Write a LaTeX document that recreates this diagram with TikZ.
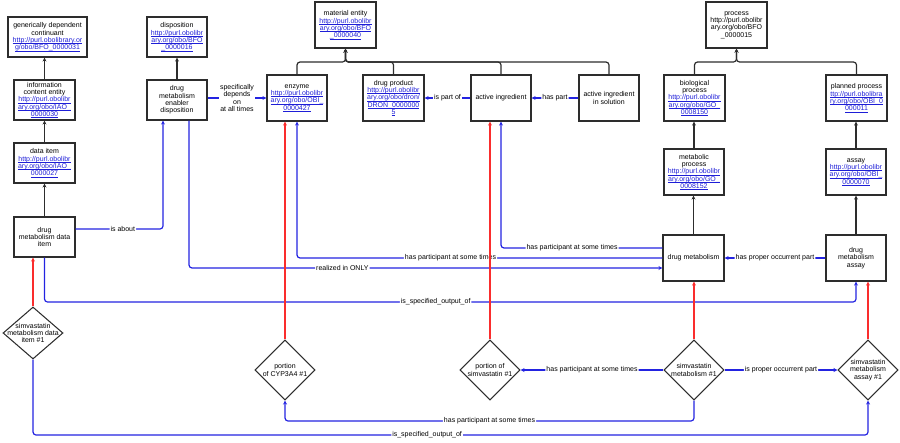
\documentclass[tikz,border=0pt]{standalone}
\usepackage{fontspec}
\setmainfont{Liberation Sans}
\usetikzlibrary{arrows.meta,shapes.geometric}
\definecolor{relblue}{RGB}{35,35,225}
\definecolor{insred}{RGB}{250,45,45}
\definecolor{linkc}{RGB}{30,30,215}
\definecolor{edgec}{RGB}{45,45,45}
\newcommand{\lk}[1]{{\color{linkc}\setbox0=\hbox{#1}\leavevmode\rlap{\rule[-1.2pt]{\wd0}{0.45pt}}\box0}}
\begin{document}
\begin{tikzpicture}[x=1pt,y=-1pt,
  every node/.style={font=\fontsize{7}{7.3}\selectfont},
  box/.style={draw=edgec, line width=1.1pt, align=center, inner sep=1pt, minimum width=60pt, minimum height=40pt},
  bbox/.style={box, minimum height=46pt},
  diam/.style={draw=edgec, line width=1.05pt, diamond, minimum width=60pt, minimum height=60pt, inner sep=0pt},
  isa/.style={draw=edgec, line width=1.2pt, -{Stealth[length=4pt,width=4pt]}, rounded corners=3pt},
  rel/.style={draw=relblue, line width=1.2pt, -{Stealth[length=4pt,width=4pt]}, rounded corners=3pt},
  inst/.style={draw=insred, line width=1.2pt, -{Stealth[length=4pt,width=4pt]}},
  lbl/.style={fill=white, inner sep=1pt, align=center},
]
\useasboundingbox (0,0) rectangle (900,442);

% classes
\node[box, minimum width=79pt] (gdc) at (47.5,37) {generically dependent\\continuant\\\lk{http://purl.obolibrary.or}\\\lk{g/obo/BFO\_0000031}};
\node[box, minimum width=61pt] (ice) at (44.5,100) {information\\content entity\\\lk{http://purl.obolibr}\\\lk{ary.org/obo/IAO\_}\\\lk{0000030}};
\node[box, minimum width=61pt] (dataitem) at (44.5,163) {data item\\\lk{http://purl.obolibr}\\\lk{ary.org/obo/IAO\_}\\\lk{0000027}};
\node[box, minimum width=61pt] (dmdi) at (44.5,237) {drug\\metabolism data\\item};
\node[box] (disp) at (177,37) {disposition\\\lk{http://purl.obolibr}\\\lk{ary.org/obo/BFO}\\\lk{\_0000016}};
\node[box] (dmed) at (177,100) {drug\\metabolism\\enabler\\disposition};
\node[bbox, minimum width=61pt] (material) at (345.5,25) {material entity\\\lk{http://purl.obolibr}\\\lk{ary.org/obo/BFO}\\\lk{\_0000040}};
\node[bbox] (enzyme) at (297,98) {enzyme\\\lk{http://purl.obolibr}\\\lk{ary.org/obo/OBI\_}\\\lk{0000427}};
\node[bbox, minimum width=61pt] (drugprod) at (393.5,98) {drug product\\\lk{http://purl.obolibr}\\\lk{ary.org/obo/dron/}\\\lk{DRON\_0000000}\\\lk{5}};
\node[bbox] (actingr) at (501,98) {active ingredient};
\node[bbox] (aisol) at (609,98) {active ingredient\\in solution};
\node[bbox, minimum width=61pt] (process) at (736.5,25) {process\\http://purl.obolibr\\ary.org/obo/BFO\\\_0000015};
\node[bbox, minimum width=61pt] (bioproc) at (694.5,98) {biological\\process\\\lk{http://purl.obolibr}\\\lk{ary.org/obo/GO\_}\\\lk{0008150}};
\node[bbox, minimum width=61pt] (planned) at (856.5,98) {planned process\\\lk{ttp://purl.obolibra}\\\lk{ry.org/obo/OBI\_0}\\\lk{000011}};
\node[bbox] (metab) at (694,172) {metabolic\\process\\\lk{http://purl.obolibr}\\\lk{ary.org/obo/GO\_}\\\lk{0008152}};
\node[bbox] (assay) at (856,172) {assay\\\lk{http://purl.obolibr}\\\lk{ary.org/obo/OBI\_}\\\lk{0000070}};
\node[bbox, minimum width=61pt] (drugmet) at (693.5,258) {drug metabolism};
\node[bbox] (dmassay) at (856,258) {drug\\metabolism\\assay};

% instances
\node[diam, minimum height=52pt, label={[align=center]center:{simvastatin\\metabolism data\\item \#1}}] (di1) at (33,333) {};
\node[diam, label={[align=center]center:{portion\\of CYP3A4 \#1}}] (cyp) at (285,370) {};
\node[diam, label={[align=center]center:{portion of\\simvastatin \#1}}] (psim) at (490,370) {};
\node[diam, label={[align=center]center:{simvastatin\\metabolism \#1}}] (smet) at (694,370) {};
\node[diam, label={[align=center]center:{simvastatin\\metabolism\\assay \#1}}] (sma) at (868,370) {};

% is_a edges
\coordinate (mj) at (345.5,62);
\coordinate (pj) at (736.5,62);
\draw[isa] (ice.north) -- (ice.north |- gdc.south);
\draw[isa] (dataitem.north) -- (ice.south);
\draw[isa] (dmdi.north) -- (dataitem.south);
\draw[isa] (dmed.north) -- (disp.south);
\draw[isa] (enzyme.north) |- (mj) -- (material.south);
\draw[isa] (drugprod.north) |- (mj) -- (material.south);
\draw[isa] (actingr.north) |- (mj) -- (material.south);
\draw[isa] (aisol.north) |- (mj) -- (material.south);
\draw[isa] (bioproc.north) |- (pj) -- (process.south);
\draw[isa] (planned.north) |- (pj) -- (process.south);
\draw[isa] (metab.north) -- (metab.north |- bioproc.south);
\draw[isa] (drugmet.north) -- (drugmet.north |- metab.south);
\draw[isa] (assay.north) -- (assay.north |- planned.south);
\draw[isa] (dmassay.north) -- (assay.south);

% relations between classes
\draw[rel] (dmed.east |- enzyme.west) -- node[lbl]{specifically\\depends\\on\\at all times} (enzyme.west);
\draw[rel] (actingr.west) -- node[lbl]{is part of} (drugprod.east);
\draw[rel] (aisol.west) -- node[lbl]{has part} (actingr.east);
\draw[rel] (dmdi.east |- 0,229) -| node[lbl,pos=0.27]{is about} ([xshift=-14pt]dmed.south);
\draw[rel] (drugmet.west) -| node[lbl,pos=0.29]{has participant at some times} (enzyme.south);
\draw[rel] (drugmet.west |- 0,248) -| node[lbl,pos=0.28]{has participant at some times} (actingr.south);
\draw[rel] ([xshift=12pt]dmed.south) |- node[lbl,pos=0.662]{realized in ONLY} (drugmet.west |- 0,268);
\draw[rel] (dmassay.west) -- node[lbl]{has proper occurrent part} (drugmet.east);
\draw[rel] (dmdi.south) -- (dmdi.south |- 0,302) -| node[lbl,pos=0.241]{is\_specified\_output\_of} (dmassay.south);

% relations between instances
\draw[rel] (smet.west) -- node[lbl]{has participant at some times} (psim.east);
\draw[rel] (smet.east) -- node[lbl]{is proper occurrent part} (sma.west);
\draw[rel] (smet.south) -- (smet.south |- 0,421) -| node[lbl,pos=0.25]{has participant at some times} (cyp.south);
\draw[rel] (di1.south) -- (di1.south |- 0,435) -| node[lbl,pos=0.236]{is\_specified\_output\_of} (sma.south);

% instance-of edges
\draw[inst] (di1.north) -- (di1.north |- dmdi.south);
\draw[inst] (cyp.north) -- (cyp.north |- enzyme.south);
\draw[inst] (psim.north) -- (psim.north |- actingr.south);
\draw[inst] (smet.north) -- (smet.north |- drugmet.south);
\draw[inst] (sma.north) -- (sma.north |- dmassay.south);
\end{tikzpicture}
\end{document}
